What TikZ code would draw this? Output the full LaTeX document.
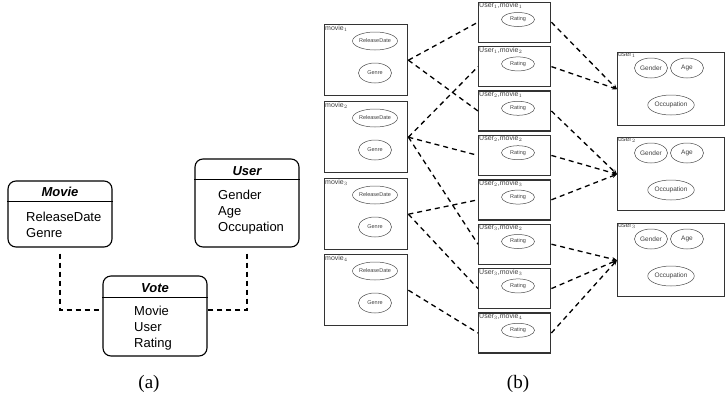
\documentclass[tikz,border=0pt]{standalone}
\usepackage{fontspec}
\setmainfont{Liberation Serif}
\setsansfont{Liberation Sans}
\usetikzlibrary{arrows.meta,shapes.geometric}

\begin{document}
\begin{tikzpicture}[x=1pt, y=-1pt,
        cls/.style={draw, rounded corners=8pt, line width=1.1pt},
        ttl/.style={inner sep=0pt, font=\sffamily\bfseries\itshape\fontsize{13}{16}\selectfont},
        attr/.style={inner sep=0pt, anchor=west, align=left, font=\sffamily\fontsize{13}{16}\selectfont},
        link/.style={line width=1.1pt, dash pattern=on 5pt off 4pt},
        frm/.style={draw=black!80, line width=1.4pt, inner sep=0pt, anchor=north west},
        ell/.style={draw=black!70, ellipse, inner sep=0pt, line width=.5pt, text=black!75, font=\sffamily\fontsize{5.5}{6}\selectfont},
        uell/.style={ell, minimum width=33, minimum height=20, font=\sffamily\fontsize{6.5}{7}\selectfont},
        tag/.style={anchor=north west, inner sep=1pt, text=black!75, font=\sffamily\fontsize{7}{7}\selectfont},
        rel/.style={line width=1.3pt, dash pattern=on 5pt off 4pt}]
        \useasboundingbox (0,0) rectangle (728,402);

        % (a) the three classes
        \node[cls, minimum width=104, minimum height=66] (movie) at (60,214) {};
        \node[ttl] (movietitle) at (60,192) {Movie};
        \draw[line width=1.1pt] ([yshift=-21pt]movie.north west) -- ([yshift=-21pt]movie.north east);
        \node[attr] (movieattr) at (26,225) {ReleaseDate\\Genre};

        \node[cls, minimum width=104, minimum height=88] (user) at (247,203) {};
        \node[ttl] (usertitle) at (247,171) {User};
        \draw[line width=1.1pt] ([yshift=-21pt]user.north west) -- ([yshift=-21pt]user.north east);
        \node[attr] (userattr) at (218,212) {Gender\\Age\\Occupation};

        \node[cls, minimum width=104, minimum height=80] (vote) at (155,316) {};
        \node[ttl] (votetitle) at (155,288) {Vote};
        \draw[line width=1.1pt] ([yshift=-22pt]vote.north west) -- ([yshift=-22pt]vote.north east);
        \node[attr] (voteattr) at (134,328) {Movie\\User\\Rating};

        \draw[link] ([yshift=-6pt]movie.south) |- ([yshift=6pt]vote.west);
        \draw[link] ([yshift=-6pt]user.south) |- ([yshift=6pt]vote.east);

        % (b) movies, votes, users
        \foreach \i/\t in {1/24,2/101,3/178,4/254} {
            \node[frm, minimum width=83, minimum height=71] (m\i) at (324,\t) {};
            \node[tag] (m\i tag) at (m\i.north west) {movie$_\i$};
            \node[ell, minimum width=43, minimum height=18] (m\i date) at (375,\t+17) {ReleaseDate};
            \node[ell, minimum width=33, minimum height=20] (m\i genre) at (375,\t+49) {Genre};
        }
        \foreach \i/\u/\m in {1/1/1,2/1/2,3/2/1,4/2/2,5/2/3,6/3/2,7/3/3,8/3/4} {
            \node[frm, minimum width=72, minimum height=40] (v\i) at (478,{1.5+44.4*(\i-1)}) {};
            \node[tag] (v\i tag) at (v\i.north west) {User$_\u$,movie$_\m$};
            \node[ell, minimum width=33, minimum height=14] (v\i rate) at (518,{19.5+44.4*(\i-1)}) {Rating};
        }
        \foreach \i/\t in {1/52,2/137,3/223} {
            \node[frm, minimum width=107, minimum height=73] (u\i) at (617,\t) {};
            \node[tag] (u\i tag) at (u\i.north west) {user$_\i$};
            \node[uell] (u\i gender) at (651,\t+16) {Gender};
            \node[uell] (u\i age) at (687,\t+16) {Age};
            \node[uell, minimum width=42] (u\i occ) at (671,\t+53) {Occupation};
        }

        \foreach \a/\b in {1/1,1/3,2/2,2/4,2/6,3/5,3/7,4/8}
            \draw[rel] (m\a.east) -- (v\b.west);
        \foreach \a/\b in {1/1,2/1,3/2,4/2,5/2,6/3,7/3,8/3}
            \draw[rel, -{Stealth[length=5pt, width=4pt]}] (v\a.east) -- (u\b.west);

        \node[font=\fontsize{19}{22}\selectfont] (capa) at (149,384) {(a)};
        \node[font=\fontsize{19}{22}\selectfont] (capb) at (518,384) {(b)};
\end{tikzpicture}
\end{document}
